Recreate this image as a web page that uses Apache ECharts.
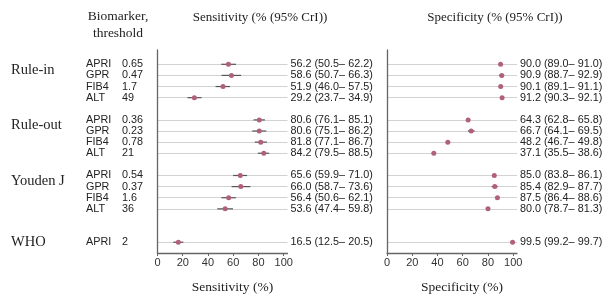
<!DOCTYPE html>
<html><head><meta charset="utf-8">
<script src="https://cdn.jsdelivr.net/npm/echarts@6/dist/echarts.min.js"></script>
<style>html,body{margin:0;padding:0;background:#fff}#c{width:605px;height:294px}</style>
</head><body><div id="c"></div>
<script>
// ---- data ----
const groupNames = ['Rule-in', 'Rule-out', 'Youden J', 'WHO'];
const biomarkers = [['APRI','GPR','FIB4','ALT'], ['APRI','GPR','FIB4','ALT'], ['APRI','GPR','FIB4','ALT'], ['APRI']];
const thresholds = [['0.65','0.47','1.7','49'], ['0.36','0.23','0.78','21'], ['0.54','0.37','1.6','36'], ['2']];
const sensEst = [56.2, 58.6, 51.9, 29.2, 80.6, 80.6, 81.8, 84.2, 65.6, 66.0, 56.4, 53.6, 16.5];
const sensLo  = [50.5, 50.7, 46.0, 23.7, 76.1, 75.1, 77.1, 79.5, 59.9, 58.7, 50.6, 47.4, 12.5];
const sensHi  = [62.2, 66.3, 57.5, 34.9, 85.1, 86.2, 86.7, 88.5, 71.0, 73.6, 62.1, 59.8, 20.5];
const specEst = [90.0, 90.9, 90.1, 91.2, 64.3, 66.7, 48.2, 37.1, 85.0, 85.4, 87.5, 80.0, 99.5];
const specLo  = [89.0, 88.7, 89.1, 90.3, 62.8, 64.1, 46.7, 35.5, 83.8, 82.9, 86.4, 78.7, 99.2];
const specHi  = [91.0, 92.9, 91.1, 92.1, 65.8, 69.5, 49.8, 38.6, 86.1, 87.7, 88.6, 81.3, 99.7];
const xTicks = [0, 20, 40, 60, 80, 100];

// ---- layout helpers ----
const gapSlots = [1, 1, 2];
const cats = [];
const rowInfo = {};
let n = 0, sp = 0;
groupNames.forEach((g, gi) => {
  biomarkers[gi].forEach((b, bi) => {
    const key = 'r' + n;
    cats.push(key);
    rowInfo[key] = { group: g, first: bi === 0, single: biomarkers[gi].length === 1, bm: b, th: thresholds[gi][bi], idx: n };
    n++;
  });
  if (gi < gapSlots.length) for (let k = 0; k < gapSlots[gi]; k++) cats.push('s' + (sp++));
});
const rowKeys = cats.filter(c => rowInfo[c]);
const fmt = (v, lo, hi) => v.toFixed(1) + ' (' + lo.toFixed(1) + '\u2013 ' + hi.toFixed(1) + ')';

const numFont = "'Liberation Sans',Arial,sans-serif";
const serif = "'Liberation Serif','Times New Roman',serif";
const textCol = '#222';
const ptColor = '#b0607a';
const axisCol = '#666';
const numSize = 10.8;

const rowsTop = 64.3, rowsH = 177.9, frameTop = 50, frameH = 203, gw = 130;
const lefts = [157.5, 387];
const XMAX = 103;

const grids = [], xAxes = [], yAxes = [], series = [];
const panels = [
  { est: sensEst, lo: sensLo, hi: sensHi, name: 'Sensitivity (%)' },
  { est: specEst, lo: specLo, hi: specHi, name: 'Specificity (%)' }
];
panels.forEach((p, pi) => {
  const g0 = grids.length;
  grids.push({ left: lefts[pi], width: gw, top: rowsTop, height: rowsH, outerBoundsMode: 'none', containLabel: false });
  grids.push({ left: lefts[pi], width: gw, top: frameTop, height: frameH, outerBoundsMode: 'none', containLabel: false });
  const xRow = xAxes.length;
  xAxes.push({ type: 'value', gridIndex: g0, min: 0, max: XMAX, show: false });
  xAxes.push({
    type: 'value', gridIndex: g0 + 1, min: 0, max: XMAX, interval: 20,
    axisLine: { show: true, lineStyle: { color: axisCol, width: 1.3 } },
    axisTick: { show: true, length: 3, lineStyle: { color: axisCol } },
    axisLabel: { showMaxLabel: false, color: '#333', fontSize: 11, fontFamily: numFont, margin: 4,
      formatter: v => xTicks.includes(v) ? String(v) : '' },
    splitLine: { show: false },
    name: p.name, nameLocation: 'middle', nameGap: 27,
    nameTextStyle: { fontFamily: serif, fontSize: 13.5, color: textCol, padding: [0, 0, 0, 20] }
  });
  const yRow = yAxes.length;
  yAxes.push({
    type: 'category', gridIndex: g0, data: cats, inverse: true, boundaryGap: false, position: 'left',
    axisLine: { show: false }, axisTick: { show: false },
    splitLine: { show: true, interval: (i, v) => !!rowInfo[v], lineStyle: { color: '#d2d2d2', width: 1 } },
    axisLabel: pi === 0 ? {
      show: true, interval: 0, align: 'left', margin: 71.5, fontFamily: numFont, fontSize: numSize, color: textCol,
      formatter: v => rowInfo[v] ? '{a|' + rowInfo[v].bm + '}{b|' + rowInfo[v].th + '}' : '',
      rich: { a: { width: 36, fontFamily: numFont, fontSize: numSize, color: textCol }, b: { fontFamily: numFont, fontSize: numSize, color: textCol } }
    } : { show: false }
  });
  yAxes.push({
    type: 'category', gridIndex: g0, data: cats, inverse: true, boundaryGap: false, position: 'right', offset: 0,
    axisLine: { show: false }, axisTick: { show: false }, splitLine: { show: false },
    axisLabel: { show: true, interval: 0, margin: 3, fontFamily: numFont, fontSize: numSize, color: textCol,
      formatter: v => { const r = rowInfo[v]; return r ? fmt(p.est[r.idx], p.lo[r.idx], p.hi[r.idx]) : ''; } }
  });
  if (pi === 0) {
    yAxes.push({
      type: 'category', gridIndex: g0, data: cats, inverse: true, boundaryGap: false, position: 'left', offset: 0,
      axisLine: { show: false }, axisTick: { show: false }, splitLine: { show: false },
      axisLabel: { show: true, interval: 0, align: 'left', margin: 146.5,
        formatter: v => {
          const r = rowInfo[v];
          if (!r || !r.first) return '';
          return (r.single ? '{s|' : '{g|') + r.group + '}';
        },
        rich: {
          g: { fontFamily: serif, fontSize: 14.5, color: textCol, padding: [11, 0, 0, 0] },
          s: { fontFamily: serif, fontSize: 14.5, color: textCol }
        } }
    });
  }
  const yFrame = yAxes.length;
  yAxes.push({ type: 'value', gridIndex: g0 + 1, min: 0, max: 1,
    axisLine: { show: true, lineStyle: { color: axisCol, width: 1.3 } },
    axisTick: { show: false }, axisLabel: { show: false }, splitLine: { show: false } });
  series.push({ type: 'scatter', xAxisIndex: xRow + 1, yAxisIndex: yFrame, data: [], silent: true });
  series.push({
    type: 'custom', xAxisIndex: xRow, yAxisIndex: yRow, z: 3,
    data: rowKeys.map(k => [p.lo[rowInfo[k].idx], p.hi[rowInfo[k].idx], k]),
    encode: { x: [0, 1], y: 2 },
    renderItem: (params, api) => {
      const a = api.coord([api.value(0), api.value(2)]);
      const b = api.coord([api.value(1), api.value(2)]);
      return { type: 'line', shape: { x1: a[0], y1: a[1], x2: b[0], y2: b[1] }, style: { stroke: '#555', lineWidth: 1.2 } };
    }
  });
  series.push({
    type: 'scatter', xAxisIndex: xRow, yAxisIndex: yRow, z: 4, symbolSize: 5,
    itemStyle: { color: ptColor, opacity: 1 },
    data: rowKeys.map(k => [p.est[rowInfo[k].idx], k])
  });
});

const chart = echarts.init(document.getElementById('c'), null, { renderer: 'canvas' });
chart.setOption({
  animation: false,
  grid: grids, xAxis: xAxes, yAxis: yAxes, series: series,
  graphic: [
    { type: 'text', x: 118, y: 8, style: { text: 'Biomarker,\nthreshold', font: '13.5px ' + serif, fill: textCol, align: 'center', verticalAlign: 'top', lineHeight: 17 } },
    { type: 'text', x: 260, y: 18, style: { text: 'Sensitivity (% (95% CrI))', font: '13px ' + serif, fill: textCol, align: 'center', verticalAlign: 'middle' } },
    { type: 'text', x: 495, y: 18, style: { text: 'Specificity (% (95% CrI))', font: '13px ' + serif, fill: textCol, align: 'center', verticalAlign: 'middle' } }
  ]
});
</script></body></html>
